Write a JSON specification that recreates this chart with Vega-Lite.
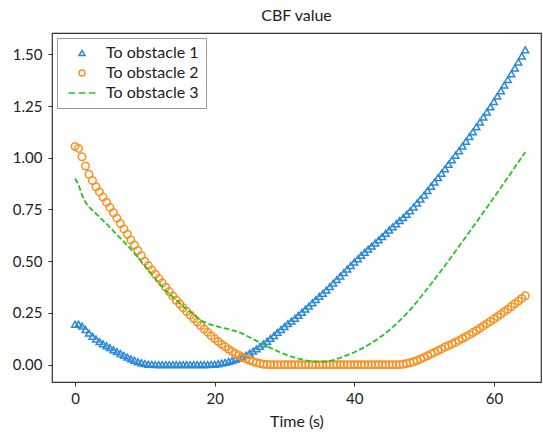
{
  "$schema": "https://vega.github.io/schema/vega-lite/v6.json",
  "width": 489,
  "height": 349,
  "autosize": {"type": "none"},
  "padding": {"left": 52, "top": 33, "right": 2, "bottom": 56},
  "title": {"text": "CBF value", "fontSize": 16, "fontWeight": "normal", "font": "Lato", "color": "#222", "offset": 9},
  "datasets": {
    "b": [
      [0,0.195],[0.5,0.196],[1,0.186],[1.5,0.17],[2,0.152],[2.5,0.137],[3,0.124],[3.5,0.112],[4,0.101],[4.5,0.091],
      [5,0.082],[5.5,0.072],[6,0.063],[6.5,0.054],[7,0.045],[7.5,0.036],[8,0.028],[8.5,0.021],[9,0.014],[9.5,0.009],
      [10,0.005],[10.5,0.002],[11,0.001],[11.5,0],[12,0],[12.5,0],[13,0],[13.5,0],[14,0],[14.5,0],
      [15,0],[15.5,0],[16,0],[16.5,0],[17,0],[17.5,0],[18,0],[18.5,0],[19,0],[19.5,0.001],
      [20,0.002],[20.5,0.004],[21,0.007],[21.5,0.011],[22,0.015],[22.5,0.02],[23,0.026],[23.5,0.032],[24,0.038],[24.5,0.046],
      [25,0.055],[25.5,0.065],[26,0.076],[26.5,0.088],[27,0.1],[27.5,0.113],[28,0.127],[28.5,0.141],[29,0.156],[29.5,0.17],
      [30,0.184],[30.5,0.198],[31,0.211],[31.5,0.224],[32,0.238],[32.5,0.253],[33,0.268],[33.5,0.283],[34,0.299],[34.5,0.314],
      [35,0.33],[35.5,0.345],[36,0.36],[36.5,0.377],[37,0.394],[37.5,0.411],[38,0.428],[38.5,0.445],[39,0.462],[39.5,0.479],
      [40,0.496],[40.5,0.512],[41,0.528],[41.5,0.543],[42,0.558],[42.5,0.573],[43,0.588],[43.5,0.603],[44,0.619],[44.5,0.635],
      [45,0.651],[45.5,0.666],[46,0.681],[46.5,0.696],[47,0.711],[47.5,0.727],[48,0.744],[48.5,0.762],[49,0.781],[49.5,0.8],
      [50,0.82],[50.5,0.841],[51,0.862],[51.5,0.883],[52,0.904],[52.5,0.925],[53,0.946],[53.5,0.968],[54,0.99],[54.5,1.012],
      [55,1.034],[55.5,1.056],[56,1.079],[56.5,1.102],[57,1.125],[57.5,1.149],[58,1.173],[58.5,1.197],[59,1.221],[59.5,1.246],
      [60,1.272],[60.5,1.298],[61,1.324],[61.5,1.351],[62,1.378],[62.5,1.406],[63,1.434],[63.5,1.463],[64,1.492],[64.5,1.522]
    ],
    "o": [
      [0,1.055],[0.5,1.045],[1,1.005],[1.5,0.96],[2,0.92],[2.5,0.89],[3,0.86],[3.5,0.835],[4,0.81],[4.5,0.785],
      [5,0.76],[5.5,0.734],[6,0.708],[6.5,0.682],[7,0.656],[7.5,0.63],[8,0.603],[8.5,0.578],[9,0.552],[9.5,0.527],
      [10,0.5],[10.5,0.479],[11,0.458],[11.5,0.437],[12,0.416],[12.5,0.395],[13,0.374],[13.5,0.353],[14,0.332],[14.5,0.311],
      [15,0.293],[15.5,0.275],[16,0.257],[16.5,0.24],[17,0.223],[17.5,0.206],[18,0.189],[18.5,0.172],[19,0.156],[19.5,0.14],
      [20,0.126],[20.5,0.112],[21,0.098],[21.5,0.086],[22,0.074],[22.5,0.063],[23,0.053],[23.5,0.044],[24,0.036],[24.5,0.028],
      [25,0.021],[25.5,0.015],[26,0.009],[26.5,0.005],[27,0.002],[27.5,0.001],[28,0],[28.5,0],[29,0],[29.5,0],
      [30,0],[30.5,0],[31,0],[31.5,0],[32,0],[32.5,0],[33,0],[33.5,0],[34,0],[34.5,0],
      [35,0],[35.5,0],[36,0],[36.5,0],[37,0],[37.5,0],[38,0],[38.5,0],[39,0],[39.5,0],
      [40,0],[40.5,0],[41,0],[41.5,0],[42,0],[42.5,0],[43,0],[43.5,0],[44,0],[44.5,0],
      [45,0],[45.5,0],[46,0],[46.5,0],[47,0.002],[47.5,0.005],[48,0.009],[48.5,0.014],[49,0.02],[49.5,0.027],
      [50,0.035],[50.5,0.043],[51,0.051],[51.5,0.059],[52,0.068],[52.5,0.076],[53,0.085],[53.5,0.092],[54,0.1],[54.5,0.108],
      [55,0.117],[55.5,0.126],[56,0.135],[56.5,0.145],[57,0.155],[57.5,0.165],[58,0.176],[58.5,0.187],[59,0.198],[59.5,0.209],
      [60,0.22],[60.5,0.232],[61,0.244],[61.5,0.256],[62,0.268],[62.5,0.281],[63,0.294],[63.5,0.307],[64,0.32],[64.5,0.333]
    ],
    "g": [
      [0,0.9],[0.5,0.87],[1,0.82],[1.5,0.785],[2,0.762],[3,0.73],[4,0.697],[5,0.663],[6,0.628],[7,0.594],
      [8,0.558],[9,0.519],[10,0.478],[11,0.436],[12,0.396],[13,0.358],[14,0.326],[15,0.297],[16,0.268],[17,0.242],
      [18,0.214],[19,0.198],[20,0.188],[21,0.179],[22,0.171],[23,0.162],[24,0.15],[25,0.132],[26,0.115],[27,0.098],
      [28,0.081],[29,0.065],[30,0.051],[31,0.039],[32,0.029],[33,0.021],[34,0.015],[35,0.013],[36,0.015],[37,0.022],
      [38,0.033],[39,0.046],[40,0.06],[41,0.076],[42,0.095],[43,0.116],[44,0.139],[45,0.166],[46,0.196],[47,0.229],
      [48,0.265],[49,0.305],[50,0.347],[51,0.39],[52,0.434],[53,0.479],[54,0.525],[55,0.571],[56,0.618],[57,0.665],
      [58,0.712],[59,0.76],[60,0.808],[61,0.856],[62,0.905],[63,0.954],[64,1.003],[64.5,1.028]
    ]
  },
  "data": {"name": "b"},
  "encoding": {
    "x": {
      "field": "t", "type": "quantitative",
      "scale": {"domain": [-3.3, 66.75], "nice": false, "zero": false},
      "axis": {"values": [0, 20, 40, 60], "title": "Time (s)", "labelPadding": 5, "titlePadding": 7}
    },
    "y": {
      "field": "v", "type": "quantitative",
      "scale": {"domain": [-0.084, 1.603], "nice": false, "zero": false},
      "axis": {"values": [0, 0.25, 0.5, 0.75, 1, 1.25, 1.5], "format": ".2f", "title": null, "labelPadding": 6}
    }
  },
  "layer": [
    {
      "data": {"name": "b"},
      "transform": [{"calculate": "1", "as": "s"}, {"calculate": "datum[0]", "as": "t"}, {"calculate": "datum[1]", "as": "v"}],
      "mark": {"type": "point", "filled": false, "size": 46, "strokeWidth": 1.5, "opacity": 1},
      "encoding": {
        "color": {
          "field": "s", "type": "nominal",
          "scale": {"domain": [1, 2, 3], "range": ["#2a88d8", "#f89020", "#22c322"]},
          "legend": {
            "title": null, "orient": "top-left", "offset": 5,
            "labelExpr": "'To obstacle ' + datum.label",
            "symbolSize": 36, "symbolStrokeWidth": 1.5, "symbolFillColor": "transparent", "symbolType": "circle",
            "symbolOffset": 10, "labelOffset": 16, "labelFontSize": 16, "labelFont": "Lato", "labelColor": "#222",
            "rowPadding": 4, "padding": 7, "strokeColor": "#999", "fillColor": "white"
          }
        },
        "shape": {
          "field": "s", "type": "nominal",
          "scale": {"domain": [1, 2, 3], "range": ["triangle-up", "circle", "M-4.5,0H-2.3M-1.1,0H1.1M2.3,0H4.5"]},
          "legend": {
            "title": null, "orient": "top-left", "offset": 5,
            "labelExpr": "'To obstacle ' + datum.label",
            "symbolSize": 36, "symbolStrokeWidth": 1.5, "symbolFillColor": "transparent",
            "symbolOffset": 10, "labelOffset": 16, "labelFontSize": 16, "labelFont": "Lato", "labelColor": "#222",
            "rowPadding": 4, "padding": 7, "strokeColor": "#999", "fillColor": "white"
          }
        }
      }
    },
    {
      "data": {"name": "o"},
      "transform": [{"calculate": "2", "as": "s"}, {"calculate": "datum[0]", "as": "t"}, {"calculate": "datum[1]", "as": "v"}],
      "mark": {"type": "point", "filled": false, "size": 56, "strokeWidth": 1.5, "opacity": 1},
      "encoding": {
        "color": {"field": "s", "type": "nominal"},
        "shape": {"field": "s", "type": "nominal"}
      }
    },
    {
      "data": {"name": "g"},
      "transform": [{"calculate": "datum[0]", "as": "t"}, {"calculate": "datum[1]", "as": "v"}],
      "mark": {"type": "line", "color": "#22c322", "strokeWidth": 1.8, "strokeDash": [5.5, 2.5]},
      "encoding": {}
    }
  ],
  "config": {
    "font": "Lato",
    "view": {"stroke": "#333", "strokeWidth": 1.2},
    "axis": {
      "domain": false, "grid": false, "tickColor": "#333", "tickSize": 4, "tickWidth": 1,
      "labelFontSize": 15, "labelColor": "#222", "labelFont": "Lato",
      "titleFontSize": 16, "titleFontWeight": "normal", "titleColor": "#222", "titleFont": "Lato"
    }
  }
}
